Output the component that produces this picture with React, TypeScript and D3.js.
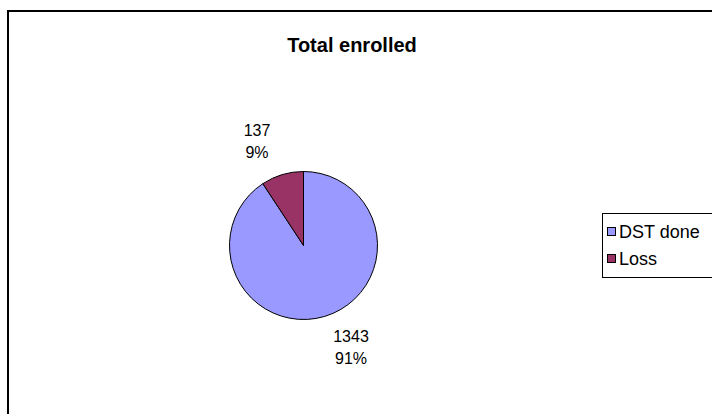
import React from "react";
import * as d3 from "d3";

const categories = ["DST done", "Loss"];
const values = [1343, 137];
const percents = ["91%", "9%"];
const colors = ["#9999FF", "#993366"];
const title = "Total enrolled";

export default function App() {
  const W = 712, H = 414;
  const cx = 303.5, cy = 245.5, r = 74;
  const pie = d3.pie<number>().sort(null).startAngle(0).endAngle(2 * Math.PI);
  const arcs = pie(values);
  const arcGen = d3.arc<d3.PieArcDatum<number>>().innerRadius(0).outerRadius(r);
  const labelPos = [
    { x: 351, y: 342 },
    { x: 257, y: 136 },
  ];
  const font = "Arial, 'Liberation Sans', sans-serif";
  return (
    <svg width={W} height={H} style={{ position: "absolute", left: 0, top: 0 }}>
      <rect x={0} y={0} width={W} height={H} fill="#fff" />
      <rect x={8} y={11} width={760} height={460} fill="#fff" stroke="#000" strokeWidth={2} />
      <text x={352} y={52} textAnchor="middle" fontFamily={font} fontWeight="bold" fontSize={20}>
        {title}
      </text>
      <g transform={`translate(${cx},${cy})`}>
        {arcs.map((a, i) => (
          <path key={i} d={arcGen(a) || ""} fill={colors[i]} stroke="#000" strokeWidth={1} />
        ))}
      </g>
      {labelPos.map((p, i) => (
        <text key={i} x={p.x} y={p.y} textAnchor="middle" fontFamily={font} fontSize={16}>
          <tspan x={p.x}>{values[i]}</tspan>
          <tspan x={p.x} dy={22}>{percents[i]}</tspan>
        </text>
      ))}
      <rect x={602.5} y={213.5} width={130} height={64} fill="#fff" stroke="#000" strokeWidth={1} />
      {categories.map((c, i) => (
        <g key={c} transform={`translate(0,${i * 27})`}>
          <rect x={607.5} y={227.5} width={8} height={8} fill={colors[i]} stroke="#000" strokeWidth={1} />
          <text x={619} y={238} fontFamily={font} fontSize={18}>{c}</text>
        </g>
      ))}
    </svg>
  );
}
